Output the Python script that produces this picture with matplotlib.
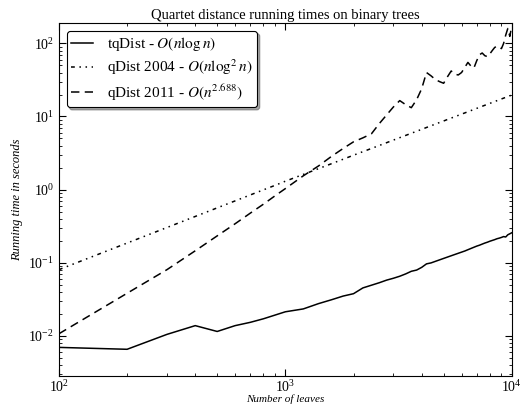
import matplotlib
matplotlib.use("Agg")
import matplotlib.pyplot as plt

plt.rcParams['font.family'] = ['Liberation Serif', 'DejaVu Serif']
plt.rcParams['mathtext.fontset'] = 'stix'
plt.rcParams['xtick.direction'] = 'in'
plt.rcParams['ytick.direction'] = 'in'

# number of leaves
leaves = [100, 200, 300, 400, 500, 600, 700, 800, 900, 1000,
          1200, 1400, 1600, 1800, 2000, 2200, 2400, 2600, 2800, 3000,
          3200, 3400, 3600, 3800, 4000, 4200, 4400, 4600, 4800, 5000,
          5200, 5400, 5600, 5800, 6000, 6200, 6400, 6600, 6800, 7000,
          7200, 7400, 7600, 7800, 8000, 8200, 8400, 8600, 8800, 9000,
          9200, 9400, 9600, 9800, 10000]

# running times (seconds)
tqdist = [0.0069, 0.0065, 0.0104, 0.0137, 0.0114, 0.0137, 0.0152, 0.0170, 0.0191, 0.0212,
          0.0232, 0.0274, 0.0310, 0.0348, 0.0375, 0.0450, 0.0490, 0.0530, 0.0575, 0.0610,
          0.0650, 0.0700, 0.0760, 0.0790, 0.0860, 0.0960, 0.0990, 0.1040, 0.1090, 0.1140,
          0.1190, 0.1240, 0.1290, 0.1340, 0.1390, 0.1440, 0.1500, 0.1560, 0.1620, 0.1680,
          0.1730, 0.1790, 0.1850, 0.1900, 0.1960, 0.2010, 0.2060, 0.2120, 0.2160, 0.2210,
          0.2270, 0.2240, 0.2400, 0.2480, 0.2560]

qdist2004 = [0.080, 0.185, 0.302, 0.428, 0.561, 0.699, 0.843, 0.99, 1.14, 1.30,
             1.61, 1.93, 2.26, 2.60, 2.95, 3.30, 3.65, 4.01, 4.38, 4.75,
             5.13, 5.51, 5.89, 6.28, 6.67, 7.07, 7.47, 7.87, 8.28, 8.68,
             9.10, 9.51, 9.93, 10.35, 10.77, 11.19, 11.62, 12.05, 12.48, 12.92,
             13.35, 13.79, 14.24, 14.68, 15.12, 15.57, 16.02, 16.47, 16.92, 17.37,
             17.83, 18.29, 18.75, 19.21, 19.68]

qdist2011 = [0.0106, 0.038, 0.080, 0.145, 0.232, 0.34, 0.475, 0.63, 0.82, 1.03,
             1.54, 2.1, 2.85, 3.65, 4.5, 5.1, 5.8, 8.0, 10.5, 13.5,
             16.5, 14.5, 13.2, 17, 24, 40, 36, 32, 30, 28.5,
             35, 42, 38, 37, 40, 47, 55, 49, 46, 58,
             70, 74, 68, 66, 72, 80, 88, 92, 88, 85,
             100, 130, 160, 125, 175]

fig = plt.figure(figsize=(5.26, 4.05), dpi=100)
ax = fig.add_axes([0.112, 0.0716, 0.861, 0.8714])

ax.plot(leaves, tqdist, color='black', lw=1.1, ls='-',
        label=r'tqDist - $O(n\log n)$')
ax.plot(leaves, qdist2004, color='black', lw=1.1, ls=(0, (2.5, 3, 1, 3, 1, 3)),
        label=r'qDist 2004 - $O(n\log^2 n)$')
ax.plot(leaves, qdist2011, color='black', lw=1.1, ls=(0, (5.5, 3.5)),
        label=r'qDist 2011 - $O(n^{2.688})$')

ax.set_xscale('log')
ax.set_yscale('log')
ax.set_xlim(100, 10000)
ax.set_ylim(0.0028, 190)
ax.tick_params(which='both', top=True, right=True, labelsize=10)
ax.tick_params(axis='x', pad=2)
ax.tick_params(which='major', length=5)
ax.tick_params(which='minor', length=2.5)

ax.set_title('Quartet distance running times on binary trees', fontsize=10.5, pad=3)
ax.set_xlabel('Number of leaves', fontstyle='italic', fontsize=8, labelpad=0)
ax.set_ylabel('Running time in seconds', fontstyle='italic', fontsize=9, labelpad=4)

leg = ax.legend(loc='upper left', fontsize=11, shadow=True, fancybox=True,
                framealpha=1, edgecolor='black', handlelength=1.45,
                handletextpad=0.9, labelspacing=0.3, borderpad=0.3,
                borderaxespad=0.5)
leg.get_frame().set_linewidth(0.8)

fig.savefig('out.png', dpi=100)
